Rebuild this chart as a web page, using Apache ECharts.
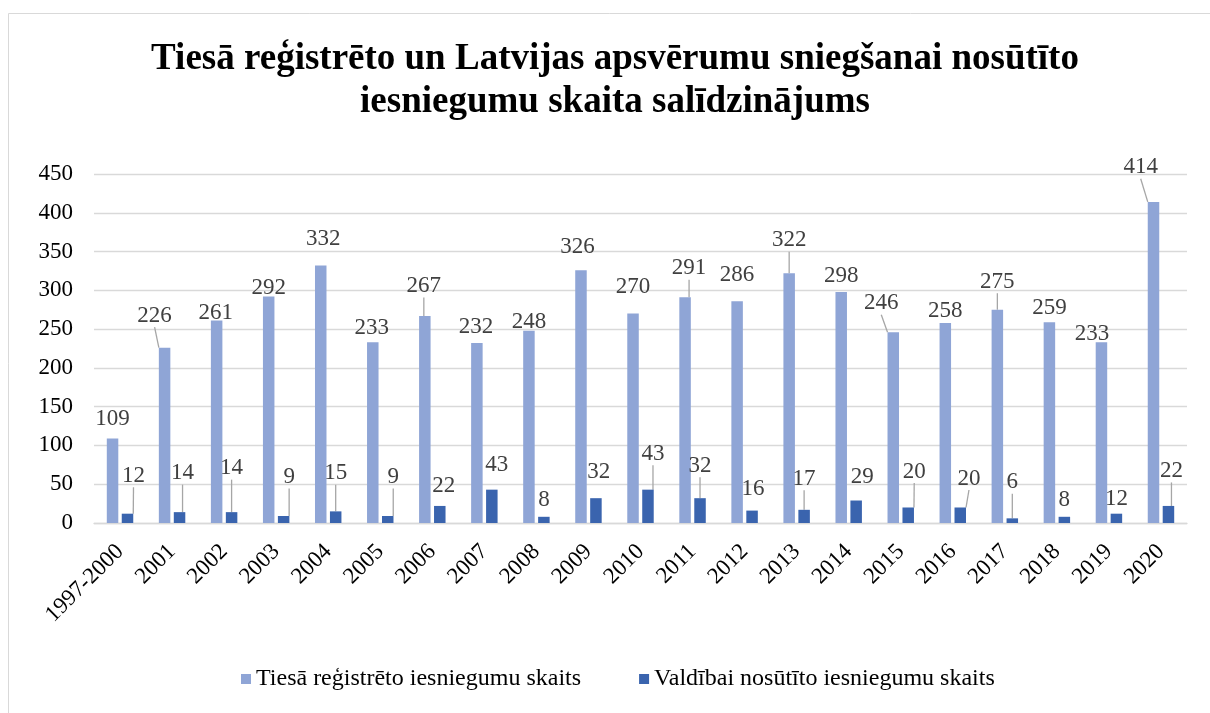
<!DOCTYPE html>
<html>
<head>
<meta charset="utf-8">
<script src="https://cdn.jsdelivr.net/npm/echarts@6/dist/echarts.min.js"></script>
<style>
html,body{margin:0;padding:0;background:#fff;}
#chart{width:1210px;height:713px;}
</style>
</head>
<body>
<div id="chart"></div>
<script>
// ---- data ----
var categories = ['1997-2000','2001','2002','2003','2004','2005','2006','2007','2008','2009','2010','2011','2012','2013','2014','2015','2016','2017','2018','2019','2020'];
var registered = [109,226,261,292,332,233,267,232,248,326,270,291,286,322,298,246,258,275,259,233,414];
var sentToGov = [12,14,14,9,15,9,22,43,8,32,43,32,16,17,29,20,20,6,8,12,22];
var seriesNames = ['Tiesā reģistrēto iesniegumu skaits','Valdībai nosūtīto iesniegumu skaits'];
var titleText = 'Tiesā reģistrēto un Latvijas apsvērumu sniegšanai nosūtīto\niesniegumu skaita salīdzinājums';
var yTicks = {min: 0, max: 450, interval: 50};

// ---- label placement (style, not data): offset of label centre from bar top centre ----
var regLabelOffsets = [[0,-20],[-10,-32],[-1,-8],[0,-8.5],[2.5,-26.5],[-1,-14.5],[-1,-30],[-1,-16],[0,-9],[-3.5,-23],[0,-26.5],[4,-29],[0,-26],[0,-33],[0,-15.7],[-12,-29],[0,-11.6],[0,-28],[0,-13.7],[-9.5,-8.4],[-12.8,-34.7]];
var regLeader = [0,1,0,0,0,0,1,0,0,0,0,1,0,1,0,1,0,1,0,0,1];
var govLabelOffsets = [[6,-38],[3,-39],[0,-44],[5.5,-39],[0,-38],[5.5,-39],[4,-20],[5,-25],[0,-17],[2.7,-26.5],[5,-36],[0,-32.5],[1,-22],[0,-31],[6,-24],[6,-36],[8.7,-29],[0,-36],[0,-17],[0,-15],[3,-35]];
var govLeader = [1,1,1,1,1,1,0,0,0,0,1,1,0,1,0,1,1,1,0,0,1];

var serif = "'Liberation Serif','Times New Roman','DejaVu Serif',serif";
var lightBlue = '#8FA5D6';
var darkBlue = '#3A64AE';

function buildData(values, leaders) {
  return values.map(function (v, i) {
    return { value: v, labelLine: { show: !!leaders[i] } };
  });
}
function makeLayout(offsets) {
  return function (params) {
    var r = params.rect;
    var o = offsets[params.dataIndex];
    return {
      x: r.x + r.width / 2 + o[0],
      y: r.y + o[1],
      align: 'center',
      verticalAlign: 'middle'
    };
  };
}

var labelStyle = {
  show: true,
  position: 'top',
  fontFamily: serif,
  fontSize: 23,
  color: '#404040'
};
var leaderStyle = { show: true, length2: 0, lineStyle: { color: '#A6A6A6', width: 1.3 } };
var legendText = { fontFamily: serif, fontSize: 24, color: '#000000' };

var chart = echarts.init(document.getElementById('chart'), null, { renderer: 'canvas' });
chart.setOption({
  animation: false,
  backgroundColor: '#ffffff',
  textStyle: { fontFamily: serif },
  graphic: [{
    type: 'rect',
    shape: { x: 8.5, y: 13.5, width: 1400, height: 900 },
    style: { fill: 'none', stroke: '#D9D9D9', lineWidth: 1 },
    silent: true
  }],
  title: {
    text: titleText,
    left: 610,
    top: 33,
    textAlign: 'center',
    padding: 5,
    textStyle: {
      fontFamily: serif,
      fontWeight: 'bold',
      fontSize: 37,
      lineHeight: 43,
      color: '#000000'
    }
  },
  legend: {
    bottom: 17,
    left: 236,
    itemWidth: 10,
    itemHeight: 10,
    itemGap: 58,
    icon: 'rect',
    textStyle: legendText,
    data: seriesNames.map(function (n) { return { name: n, textStyle: legendText }; })
  },
  grid: { left: 94, right: 23, top: 174, bottom: 190 },
  xAxis: {
    type: 'category',
    data: categories,
    axisLine: { show: true, lineStyle: { color: '#D9D9D9', width: 1.3 } },
    axisTick: { show: false },
    axisLabel: {
      rotate: 45,
      interval: 0,
      margin: 25,
      fontFamily: serif,
      fontSize: 23,
      color: '#000000'
    }
  },
  yAxis: {
    type: 'value',
    min: yTicks.min,
    max: yTicks.max,
    interval: yTicks.interval,
    axisLine: { show: false },
    axisTick: { show: false },
    splitLine: { lineStyle: { color: '#D9D9D9', width: 1.3 } },
    axisLabel: {
      margin: 21,
      fontFamily: serif,
      fontSize: 23,
      color: '#000000'
    }
  },
  series: [
    {
      name: seriesNames[0],
      type: 'bar',
      data: buildData(registered, regLeader),
      barWidth: 11.5,
      barGap: '30%',
      itemStyle: { color: lightBlue },
      label: labelStyle,
      labelLine: leaderStyle,
      labelLayout: makeLayout(regLabelOffsets)
    },
    {
      name: seriesNames[1],
      type: 'bar',
      data: buildData(sentToGov, govLeader),
      barWidth: 11.5,
      barGap: '30%',
      itemStyle: { color: darkBlue },
      label: labelStyle,
      labelLine: leaderStyle,
      labelLayout: makeLayout(govLabelOffsets)
    }
  ]
});
</script>
</body>
</html>
